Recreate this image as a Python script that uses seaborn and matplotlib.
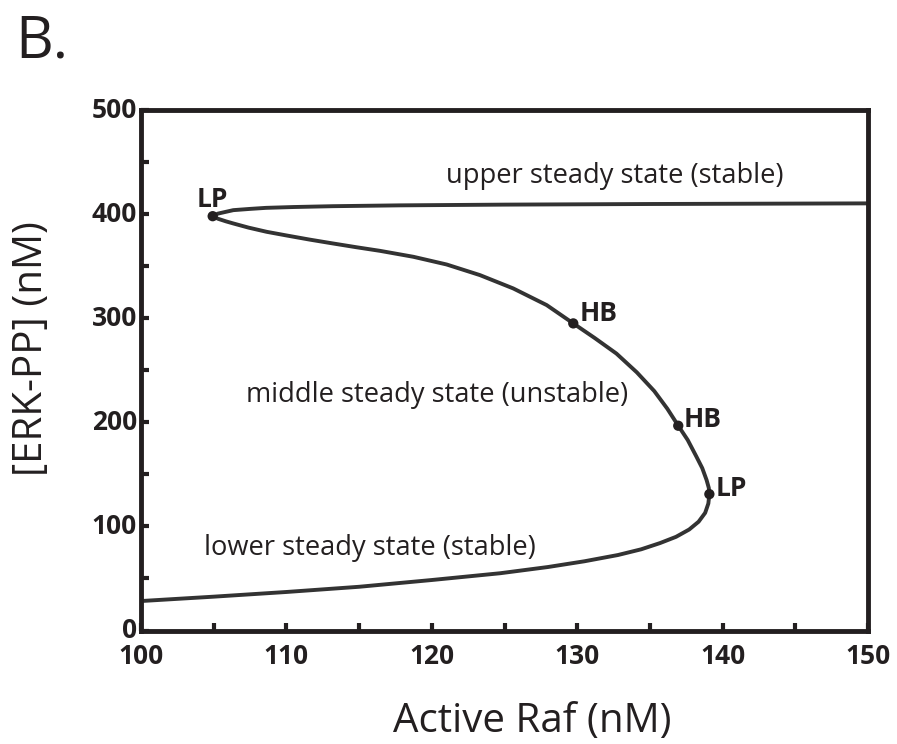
import numpy as np
import pandas as pd
import matplotlib
matplotlib.use("Agg")
import matplotlib.pyplot as plt
import matplotlib.transforms as mtransforms
from matplotlib.ticker import MultipleLocator
import seaborn as sns

# ---- data (continuation curve, in path order) ----
# lower stable branch -> right fold (LP) -> middle unstable branch -> left fold (LP) -> upper stable branch
raf = [100.0, 105.0, 110.0, 115.0, 120.0, 124.7, 128.0, 130.5, 132.8, 134.4,
       135.7, 136.8, 137.7, 138.35, 138.8, 139.02, 139.09,
       139.05, 138.9, 138.6, 138.2, 137.6, 136.95, 136.2, 135.3, 134.1,
       132.7, 131.2, 129.73, 127.9, 125.6, 123.31, 121.02, 118.73, 116.44,
       114.8, 113.2, 111.6, 110.0, 108.64, 107.4, 106.35, 105.85, 105.3, 104.93,
       105.3, 106.35, 107.5, 108.6, 110.5, 113.2, 117.8, 125.0, 135.0, 150.0]
erk = [28.3, 32.5, 37.0, 42.0, 48.5, 55.0, 61.0, 66.5, 72.5, 78.0,
       84.0, 90.0, 97.0, 104.5, 113.0, 122.0, 131.0,
       137.0, 144.5, 156.0, 167.0, 183.0, 196.7, 213.0, 230.0, 248.0,
       266.0, 281.0, 295.0, 312.6, 328.6, 341.4, 351.6, 359.0, 364.7,
       368.2, 371.8, 375.5, 379.5, 383.0, 387.0, 391.0, 393.0, 395.5, 398.0,
       400.5, 403.8, 405.0, 406.0, 406.8, 407.6, 408.4, 409.1, 409.7, 410.3]

# bifurcation points
bif_raf = [104.93, 129.73, 136.95, 139.09]
bif_erk = [398.0, 295.0, 196.7, 131.0]
bif_lab = ["LP", "HB", "HB", "LP"]

x_ticks = [100, 110, 120, 130, 140, 150]
y_ticks = [0, 100, 200, 300, 400, 500]

branch_labels = ["upper steady state (stable)",
                 "middle steady state (unstable)",
                 "lower steady state (stable)"]

df = pd.DataFrame({"raf": raf, "erk": erk})
pts = pd.DataFrame({"raf": bif_raf, "erk": bif_erk, "lab": bif_lab})

sns.set_style("ticks")
plt.rcParams["font.family"] = ["Open Sans", "DejaVu Sans"]

ink = "#231f20"
fig = plt.figure(figsize=(8.97, 7.44), dpi=100)
ax = fig.add_axes([141 / 897, 1 - 630.5 / 744, 727 / 897, 520.5 / 744])

sns.lineplot(data=df, x="raf", y="erk", sort=False, estimator=None,
             color="#333333", linewidth=2.8, ax=ax)
sns.scatterplot(data=pts, x="raf", y="erk", color=ink, s=55,
                edgecolor="none", ax=ax, zorder=5)

ax.set_xlim(100, 150)
ax.set_ylim(0, 500)
ax.set_xticks(x_ticks)
ax.set_yticks(y_ticks)
ax.xaxis.set_minor_locator(MultipleLocator(5))
ax.yaxis.set_minor_locator(MultipleLocator(50))
ax.tick_params(which="both", direction="in", length=6, width=3, color=ink,
               top=False, right=False)
ax.tick_params(axis="x", which="major", pad=9, labelsize=19, labelcolor=ink)
ax.tick_params(axis="y", which="major", pad=3, labelsize=19, labelcolor=ink)
up = mtransforms.ScaledTranslation(0, 3 / 100, fig.dpi_scale_trans)
for lab in ax.get_xticklabels():
    lab.set_fontweight("bold")
for lab in ax.get_yticklabels():
    lab.set_fontweight("bold")
    lab.set_transform(lab.get_transform() + up)
for sp in ax.spines.values():
    sp.set_linewidth(3.5)
    sp.set_color(ink)

ax.set_xlabel("Active Raf (nM)", fontsize=29, color=ink)
ax.set_ylabel("[ERK-PP] (nM)", fontsize=29, color=ink)
ax.xaxis.set_label_coords(0.538, -0.137)
ax.yaxis.set_label_coords(-0.1224, 0.541)

# branch annotations
ax.text(121.0, 429.7, branch_labels[0], fontsize=19.6, color=ink, va="baseline")
ax.text(107.2, 219.4, branch_labels[1], fontsize=19.6, color=ink, va="baseline")
ax.text(104.3, 72.5, branch_labels[2], fontsize=19.6, color=ink, va="baseline")

# bifurcation labels
lab_pos = [(103.8, 406.7), (130.2, 297.3), (137.35, 195.7), (139.55, 129.2)]
for (tx, ty), t in zip(lab_pos, bif_lab):
    ax.text(tx, ty, t, fontsize=19, fontweight="bold", color=ink, va="baseline")

fig.text(15 / 897, 1 - 57 / 744, "B.", fontsize=42, color=ink,
         ha="left", va="baseline")

fig.savefig("out.png", dpi=100)
